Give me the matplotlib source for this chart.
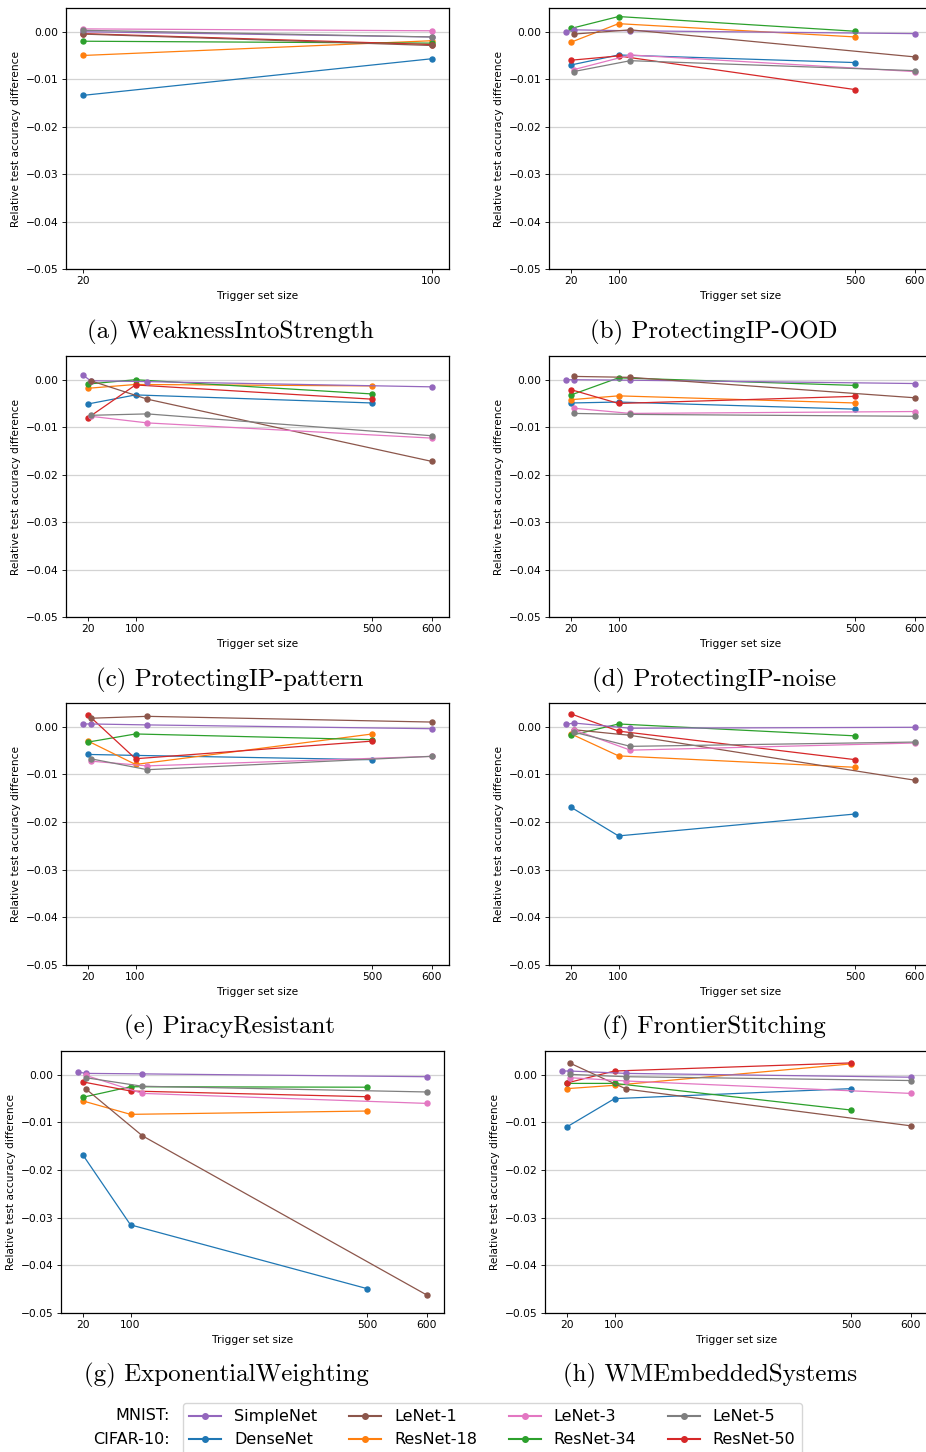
import numpy as np
import matplotlib
matplotlib.use('Agg')
import matplotlib.pyplot as plt
from matplotlib.lines import Line2D

# Trigger set sizes used for each dataset
x_cifar = [20, 100, 500]
x_mnist = [24, 120, 600]
x_simplenet = [12, 24, 120, 600]
x_short = [20, 100]

# Relative test accuracy difference per scheme and model
weakness = {
    'SimpleNet': [0.0000, -0.0011], 'LeNet-1': [-0.0005, -0.0029],
    'LeNet-3': [0.0006, 0.0002], 'LeNet-5': [0.0003, -0.0011],
    'DenseNet': [-0.0134, -0.0057], 'ResNet-18': [-0.0050, -0.0019],
    'ResNet-34': [-0.0020, -0.0024], 'ResNet-50': [-0.0004, -0.0027],
}
ood = {
    'SimpleNet': [0.0000, 0.0004, 0.0002, -0.0004], 'LeNet-1': [-0.0005, 0.0004, -0.0053],
    'LeNet-3': [-0.0080, -0.0049, -0.0084], 'LeNet-5': [-0.0084, -0.0061, -0.0082],
    'DenseNet': [-0.0070, -0.0049, -0.0065], 'ResNet-18': [-0.0022, 0.0017, -0.0011],
    'ResNet-34': [0.0007, 0.0032, 0.0001], 'ResNet-50': [-0.0060, -0.0051, -0.0122],
}
pattern = {
    'SimpleNet': [0.0009, -0.0002, -0.0004, -0.0015], 'LeNet-1': [-0.0002, -0.0041, -0.0172],
    'LeNet-3': [-0.0077, -0.0091, -0.0123], 'LeNet-5': [-0.0075, -0.0072, -0.0118],
    'DenseNet': [-0.0051, -0.0032, -0.0049], 'ResNet-18': [-0.0018, -0.0010, -0.0013],
    'ResNet-34': [-0.0009, 0.0000, -0.0030], 'ResNet-50': [-0.0080, -0.0011, -0.0041],
}
noise = {
    'SimpleNet': [0.0000, 0.0000, -0.0001, -0.0008], 'LeNet-1': [0.0007, 0.0005, -0.0038],
    'LeNet-3': [-0.0060, -0.0071, -0.0067], 'LeNet-5': [-0.0071, -0.0073, -0.0077],
    'DenseNet': [-0.0049, -0.0047, -0.0062], 'ResNet-18': [-0.0042, -0.0034, -0.0049],
    'ResNet-34': [-0.0032, 0.0004, -0.0012], 'ResNet-50': [-0.0021, -0.0050, -0.0035],
}
piracy = {
    'SimpleNet': [0.0006, 0.0006, 0.0004, -0.0004], 'LeNet-1': [0.0018, 0.0022, 0.0010],
    'LeNet-3': [-0.0072, -0.0082, -0.0062], 'LeNet-5': [-0.0067, -0.0090, -0.0062],
    'DenseNet': [-0.0058, -0.0060, -0.0069], 'ResNet-18': [-0.0030, -0.0079, -0.0015],
    'ResNet-34': [-0.0032, -0.0015, -0.0027], 'ResNet-50': [0.0025, -0.0067, -0.0030],
}
frontier = {
    'SimpleNet': [0.0005, 0.0008, -0.0003, -0.0001], 'LeNet-1': [-0.0006, -0.0018, -0.0112],
    'LeNet-3': [-0.0006, -0.0049, -0.0034], 'LeNet-5': [-0.0011, -0.0041, -0.0032],
    'DenseNet': [-0.0169, -0.0229, -0.0183], 'ResNet-18': [-0.0015, -0.0061, -0.0085],
    'ResNet-34': [-0.0018, 0.0006, -0.0019], 'ResNet-50': [0.0027, -0.0009, -0.0069],
}
exponential = {
    'SimpleNet': [0.0006, 0.0003, 0.0002, -0.0004], 'LeNet-1': [-0.0029, -0.0128, -0.0462],
    'LeNet-3': [-0.0001, -0.0039, -0.0060], 'LeNet-5': [-0.0006, -0.0024, -0.0036],
    'DenseNet': [-0.0169, -0.0315, -0.0449], 'ResNet-18': [-0.0055, -0.0083, -0.0076],
    'ResNet-34': [-0.0047, -0.0025, -0.0026], 'ResNet-50': [-0.0015, -0.0034, -0.0046],
}
embedded = {
    'SimpleNet': [0.0008, 0.0008, 0.0003, -0.0005], 'LeNet-1': [0.0025, -0.0030, -0.0107],
    'LeNet-3': [-0.0006, -0.0013, -0.0039], 'LeNet-5': [0.0001, -0.0004, -0.0012],
    'DenseNet': [-0.0109, -0.0050, -0.0029], 'ResNet-18': [-0.0029, -0.0022, 0.0023],
    'ResNet-34': [-0.0018, -0.0018, -0.0074], 'ResNet-50': [-0.0017, 0.0008, 0.0025],
}

mnist_models = ['SimpleNet', 'LeNet-1', 'LeNet-3', 'LeNet-5']
cifar_models = ['DenseNet', 'ResNet-18', 'ResNet-34', 'ResNet-50']
colors = {
    'DenseNet': 'tab:blue', 'ResNet-18': 'tab:orange', 'ResNet-34': 'tab:green',
    'ResNet-50': 'tab:red', 'SimpleNet': 'tab:purple', 'LeNet-1': 'tab:brown',
    'LeNet-3': 'tab:pink', 'LeNet-5': 'tab:gray',
}

panels = [
    ('(a) WeaknessIntoStrength', weakness),
    ('(b) ProtectingIP-OOD', ood),
    ('(c) ProtectingIP-pattern', pattern),
    ('(d) ProtectingIP-noise', noise),
    ('(e) PiracyResistant', piracy),
    ('(f) FrontierStitching', frontier),
    ('(g) ExponentialWeighting', exponential),
    ('(h) WMEmbeddedSystems', embedded),
]

W, H = 926, 1452
fig = plt.figure(figsize=(W / 100, H / 100), dpi=100)

# axes boxes in pixels: (left, top, right, bottom)
boxes = [
    (66, 8, 449, 269), (549, 8, 932, 269),
    (66, 356, 449, 617), (549, 356, 932, 617),
    (66, 703, 449, 965), (549, 703, 932, 965),
    (61, 1051, 444, 1313), (545, 1051, 928, 1313),
]
caption_pos = [(230, 332), (714, 332), (230, 680), (714, 680),
               (230, 1027), (714, 1027), (226, 1375), (710, 1375)]

# small-subplot look: everything scaled down from the default sizes
k = 0.77
fs = 10 * k
for (title, data), (l, t, r, b), (cx, cy) in zip(panels, boxes, caption_pos):
    ax = fig.add_axes([l / W, 1 - b / H, (r - l) / W, (b - t) / H])
    short = title.startswith('(a)')
    for m in cifar_models + mnist_models:
        vals = data[m]
        if short:
            xs = x_short
        elif m in cifar_models:
            xs = x_cifar
        elif m == 'SimpleNet':
            xs = x_simplenet
        else:
            xs = x_mnist
        ax.plot(xs, vals, marker='o', markersize=3.6, linewidth=0.9, color=colors[m])
    ax.set_ylim(-0.05, 0.005)
    ax.set_yticks([0.0, -0.01, -0.02, -0.03, -0.04, -0.05])
    ax.set_yticklabels(['0.00', '\u22120.01', '\u22120.02', '\u22120.03', '\u22120.04', '\u22120.05'])
    ax.set_xticks(x_short if short else [20, 100, 500, 600])
    ax.tick_params(labelsize=fs, width=0.8 * k, length=3.5 * k, pad=3.5 * k)
    ax.grid(axis='y', color='#d3d3d3', linewidth=0.9)
    ax.set_axisbelow(True)
    ax.set_xlabel('Trigger set size', fontsize=fs, labelpad=4 * k)
    ax.set_ylabel('Relative test accuracy difference', fontsize=fs, labelpad=4 * k)
    for s in ax.spines.values():
        s.set_linewidth(0.9)
    fig.text(cx / W, 1 - cy / H, title, family='cmr10', fontsize=18,
             ha='center', va='center')

# shared legend along the bottom edge
order = ['SimpleNet', 'DenseNet', 'LeNet-1', 'ResNet-18',
         'LeNet-3', 'ResNet-34', 'LeNet-5', 'ResNet-50']
handles = [Line2D([], [], color=colors[m], marker='o', markersize=4, linewidth=1.5)
           for m in order]
fig.legend(handles, order, ncol=4, loc='upper left', fontsize=11.5,
           bbox_to_anchor=(183 / W, 1 - 1403 / H), columnspacing=2.0,
           handlelength=2.0, borderaxespad=0, frameon=True)
fig.text(170 / W, 1 - 1416 / H, 'MNIST:', fontsize=11.5, ha='right', va='center')
fig.text(170 / W, 1 - 1439 / H, 'CIFAR-10:', fontsize=11.5, ha='right', va='center')

fig.savefig('out.png', dpi=100)
